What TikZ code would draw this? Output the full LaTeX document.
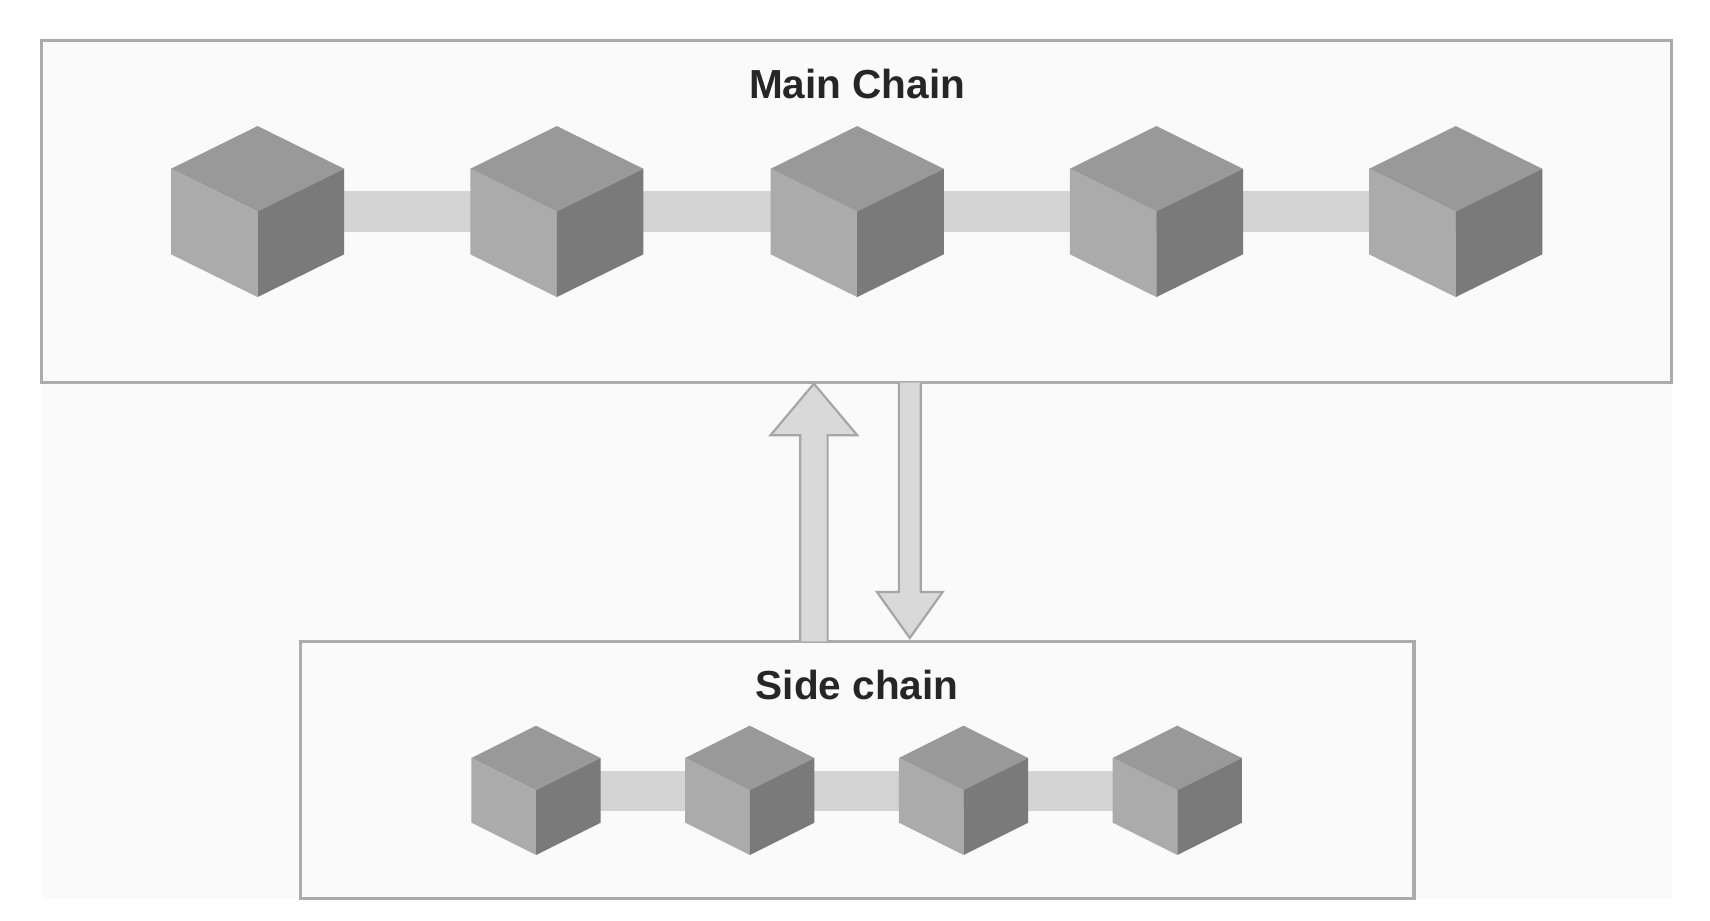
\documentclass[tikz,border=0pt]{standalone}
\usepackage{fontspec}
\setmainfont{Liberation Sans}
\begin{document}
\begin{tikzpicture}[x=0.5pt,y=-0.5pt,
  box/.style={draw=black!33,line width=1.5pt,fill=black!2},
  bar/.style={fill=black!17},
  arr/.style={draw=black!35,line width=1pt,fill=black!15},
  lbl/.style={font=\bfseries\fontsize{18.5}{22}\selectfont,text=black!85}]
\useasboundingbox (0,0) rectangle (1560,840);
\fill[white] (0,0) rectangle (1560,840);
\fill[black!2] (38,37) rectangle (1525,820);
\newcommand{\cube}[4]{% cx, cy(center), half-width, half-height
  \fill[black!40] (#1,#2-#4) -- (#1-#3,#2-#4/2) -- (#1,#2) -- (#1+#3,#2-#4/2) -- cycle;
  \fill[black!33] (#1-#3,#2-#4/2) -- (#1,#2) -- (#1,#2+#4) -- (#1-#3,#2+#4/2) -- cycle;
  \fill[black!52] (#1+#3,#2-#4/2) -- (#1,#2) -- (#1,#2+#4) -- (#1+#3,#2+#4/2) -- cycle;}
\draw[box] (38,37) rectangle (1525,349);
\draw[box] (274,585) rectangle (1290,820);
\coordinate (upS) at (742.5,585);
\coordinate (upM) at (742.5,350);
\coordinate (dnM) at (830,349);
\coordinate (dnS) at (830,582);
\node[lbl] (mt) at (782,77) {Main Chain};
\node[lbl] (st) at (782,625) {Side chain};
\fill[bar] (235,174) rectangle (1328,212);
\fill[bar] (489,703) rectangle (1074,740);
\foreach \x in {235,508,782,1055,1328} {\cube{\x}{193}{79}{78}}
\foreach \x in {489,684,879,1074} {\cube{\x}{721}{59}{59}}
\draw[arr] (730,585) -- (730,397) -- (703,397) -- (upM) -- (782,397) -- (755,397) -- (755,585);
\draw[arr] (820,349) -- (820,540) -- (800,540) -- (dnS) -- (860,540) -- (840,540) -- (840,349);
\end{tikzpicture}
\end{document}
